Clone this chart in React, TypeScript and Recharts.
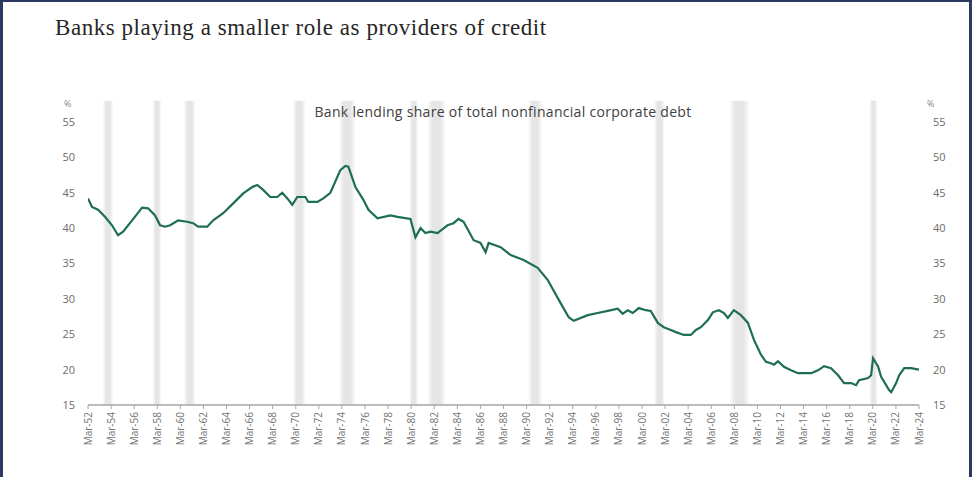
import React from "react";
import {
  LineChart,
  Line,
  XAxis,
  YAxis,
  ReferenceArea,
} from "recharts";

// ---- data ----
const years = [
  1952.17, 1952.52, 1953.04, 1953.64, 1954.25, 1954.77, 1955.21, 1955.99, 1956.86, 1957.38,
  1957.98, 1958.42, 1958.85, 1959.29, 1959.98, 1960.76, 1961.28, 1961.71, 1962.5, 1963.02,
  1963.88, 1964.75, 1965.62, 1966.4, 1966.83, 1967.35, 1967.96, 1968.57, 1969.0, 1969.44,
  1969.87, 1970.3, 1971.0, 1971.26, 1972.04, 1972.56, 1973.17, 1974.03, 1974.47, 1974.73,
  1975.34, 1976.03, 1976.47, 1977.25, 1978.37, 1978.98, 1980.11, 1980.54, 1980.98, 1981.41,
  1981.85, 1982.45, 1983.32, 1983.84, 1984.27, 1984.71, 1985.58, 1986.18, 1986.62, 1986.88,
  1987.92, 1988.79, 1989.91, 1991.13, 1991.99, 1993.12, 1993.82, 1994.25, 1995.47, 1996.33,
  1997.2, 1998.07, 1998.5, 1998.94, 1999.37, 1999.89, 2000.5, 2000.93, 2001.54, 2002.06,
  2002.67, 2003.1, 2003.8, 2004.4, 2004.84, 2005.27, 2005.88, 2006.31, 2006.83, 2007.27,
  2007.61, 2008.13, 2008.74, 2009.35, 2009.87, 2010.48, 2010.91, 2011.35, 2011.61, 2011.95,
  2012.47, 2013.08, 2013.69, 2014.21, 2014.82, 2015.42, 2015.95, 2016.55, 2017.16, 2017.68,
  2018.29, 2018.72, 2018.98, 2019.76, 2020.02, 2020.19, 2020.63, 2020.89, 2021.58, 2021.76,
  2022.19, 2022.45, 2022.89, 2023.49, 2024.17,
];

const bankShare = [
  44.2, 43.0, 42.6, 41.6, 40.4, 39.0, 39.5, 41.1, 42.9, 42.8,
  41.8, 40.4, 40.2, 40.4, 41.1, 40.9, 40.7, 40.2, 40.2, 41.1,
  42.1, 43.5, 44.9, 45.8, 46.1, 45.4, 44.4, 44.4, 45.0, 44.2,
  43.3, 44.4, 44.4, 43.7, 43.7, 44.2, 45.0, 48.2, 48.8, 48.7,
  45.8, 44.0, 42.6, 41.4, 41.8, 41.6, 41.3, 38.7, 40.0, 39.3,
  39.5, 39.3, 40.4, 40.7, 41.3, 40.9, 38.3, 37.9, 36.6, 37.9,
  37.3, 36.2, 35.5, 34.4, 32.7, 29.4, 27.4, 26.9, 27.7, 28.0,
  28.3, 28.6, 27.9, 28.4, 28.0, 28.7, 28.4, 28.3, 26.6, 26.0,
  25.6, 25.3, 24.9, 24.9, 25.6, 26.0, 27.0, 28.1, 28.4, 28.0,
  27.3, 28.4, 27.7, 26.6, 24.2, 22.1, 21.1, 20.9, 20.7, 21.2,
  20.4, 19.9, 19.5, 19.5, 19.5, 19.9, 20.5, 20.2, 19.2, 18.1,
  18.1, 17.8, 18.5, 18.8, 19.2, 21.6, 20.4, 19.0, 17.1, 16.8,
  18.1, 19.2, 20.2, 20.2, 20.0,
];

// recession shading (start / end, in years)
const recessionStart = [1953.47, 1957.81, 1960.5, 1969.96, 1973.95, 1980.05, 1981.6, 1990.35, 2001.25, 2007.8, 2019.9];
const recessionEnd = [1954.34, 1958.5, 1961.45, 1971.0, 1975.3, 1980.75, 1983.1, 1991.48, 2002.1, 2009.45, 2020.55];

const xTickLabels = [
  "Mar-52", "Mar-54", "Mar-56", "Mar-58", "Mar-60", "Mar-62", "Mar-64", "Mar-66", "Mar-68",
  "Mar-70", "Mar-72", "Mar-74", "Mar-76", "Mar-78", "Mar-80", "Mar-82", "Mar-84", "Mar-86",
  "Mar-88", "Mar-90", "Mar-92", "Mar-94", "Mar-96", "Mar-98", "Mar-00", "Mar-02", "Mar-04",
  "Mar-06", "Mar-08", "Mar-10", "Mar-12", "Mar-14", "Mar-16", "Mar-18", "Mar-20", "Mar-22",
  "Mar-24",
];
const yTicks = [15, 20, 25, 30, 35, 40, 45, 50, 55];

const title = "Banks playing a smaller role as providers of credit";
const subtitle = "Bank lending share of total nonfinancial corporate debt";

// ---- helpers ----
const labelToYear = (l: string) => {
  const yy = parseInt(l.slice(4), 10);
  return (yy >= 50 ? 1900 + yy : 2000 + yy) + 0.17;
};
const xTicks = xTickLabels.map(labelToYear);
const yearToLabel: Record<string, string> = {};
xTickLabels.forEach((l) => {
  yearToLabel[labelToYear(l).toFixed(2)] = l;
});

const data = years.map((t, i) => ({ t, v: bankShare[i] }));

const FONT = "'Open Sans', 'Noto Sans', sans-serif";

const XTick = (props: any) => {
  const { x, y, payload } = props;
  const label = yearToLabel[Number(payload.value).toFixed(2)] ?? "";
  return (
    <text
      x={x}
      y={y}
      transform={`rotate(-90 ${x} ${y})`}
      textAnchor="end"
      dy="0.35em"
      fontSize={10}
      fontFamily={FONT}
      fill="#747474"
    >
      {label}
    </text>
  );
};

export default function App() {
  return (
    <div
      style={{
        position: "fixed",
        left: 0,
        top: 0,
        width: 972,
        height: 477,
        background: "#ffffff",
        overflow: "hidden",
      }}
    >
      <LineChart
        width={972}
        height={477}
        data={data}
        margin={{ top: 122, right: 12, bottom: 12, left: 48 }}
      >
        <defs>
          <linearGradient id="bandGrad" x1="0" y1="0" x2="1" y2="0">
            <stop offset="0%" stopColor="#d4d4d4" stopOpacity={0.1} />
            <stop offset="30%" stopColor="#d4d4d4" stopOpacity={0.6} />
            <stop offset="70%" stopColor="#d4d4d4" stopOpacity={0.6} />
            <stop offset="100%" stopColor="#d4d4d4" stopOpacity={0.1} />
          </linearGradient>
        </defs>
        {recessionStart.map((s, i) => (
          <ReferenceArea
            key={i}
            yAxisId="left"
            x1={s}
            x2={recessionEnd[i]}
            y1={15}
            y2={58}
            ifOverflow="visible"
            fill="url(#bandGrad)"
            fillOpacity={1}
            stroke="none"
          />
        ))}
        <XAxis
          dataKey="t"
          type="number"
          domain={[1952.17, 2024.17]}
          ticks={xTicks}
          interval={0}
          height={60}
          tick={<XTick />}
          tickSize={4}
          tickMargin={3}
          axisLine={{ stroke: "#a6a6a6", strokeWidth: 1.5 }}
          tickLine={{ stroke: "#a6a6a6" }}
          allowDataOverflow
        />
        <YAxis
          yAxisId="left"
          orientation="left"
          width={40}
          domain={[15, 55]}
          ticks={yTicks}
          interval={0}
          axisLine={false}
          tickLine={false}
          tickSize={6}
          tickMargin={7}
          allowDataOverflow
          tick={{ fontSize: 11, fontFamily: FONT, fill: "#6b6b6b" }}
        />
        <YAxis
          yAxisId="right"
          orientation="right"
          width={41}
          domain={[15, 55]}
          ticks={yTicks}
          interval={0}
          axisLine={false}
          tickLine={false}
          tickSize={6}
          tickMargin={8}
          allowDataOverflow
          tick={{ fontSize: 11, fontFamily: FONT, fill: "#6b6b6b" }}
        />
        <Line
          yAxisId="right"
          type="linear"
          dataKey="v"
          stroke="none"
          strokeOpacity={0}
          dot={false}
          activeDot={false}
          legendType="none"
          isAnimationActive={false}
        />
        <Line
          yAxisId="left"
          type="linear"
          dataKey="v"
          stroke="#1d6e55"
          strokeWidth={2.2}
          dot={false}
          isAnimationActive={false}
        />
      </LineChart>

      {/* title */}
      <div
        style={{
          position: "absolute",
          left: 55,
          top: 15,
          fontFamily: "'Liberation Serif', 'DejaVu Serif', serif",
          fontSize: 23,
          letterSpacing: 0.55,
          color: "#262626",
          whiteSpace: "nowrap",
          lineHeight: "26px",
        }}
      >
        {title}
      </div>
      {/* subtitle */}
      <div
        style={{
          position: "absolute",
          left: 253,
          width: 500,
          top: 104,
          textAlign: "center",
          fontFamily: FONT,
          fontSize: 14,
          letterSpacing: 0.3,
          color: "#404040",
          whiteSpace: "nowrap",
          lineHeight: "16px",
        }}
      >
        {subtitle}
      </div>
      {/* % unit labels */}
      <div style={{ position: "absolute", left: 64, top: 97, fontFamily: FONT, fontSize: 9, color: "#8a8a8a" }}>%</div>
      <div style={{ position: "absolute", left: 927, top: 97, fontFamily: FONT, fontSize: 9, color: "#8a8a8a" }}>%</div>

      {/* frame */}
      <div
        style={{
          position: "absolute",
          left: 0,
          top: 0,
          width: 972,
          height: 477,
          boxSizing: "border-box",
          borderLeft: "3px solid #2b3963",
          borderTop: "2px solid #2b3963",
          borderRight: "3px solid #2b3963",
          pointerEvents: "none",
        }}
      />
    </div>
  );
}
